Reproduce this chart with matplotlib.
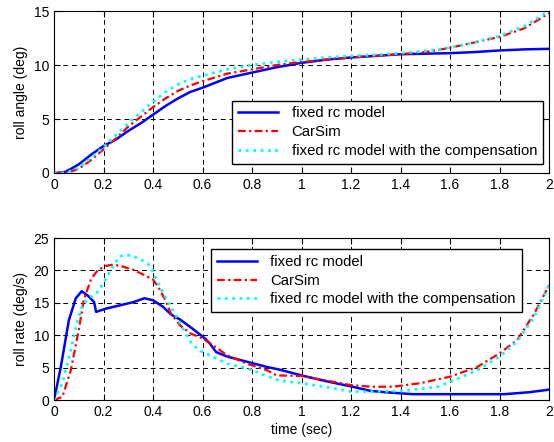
import numpy as np
import matplotlib
matplotlib.use('Agg')
import matplotlib.pyplot as plt

plt.rcParams.update({'font.family': ['Liberation Sans', 'DejaVu Sans'], 'font.size': 10})

# ── roll angle (deg) ──
t_ang = [0, 0.04, 0.07, 0.1, 0.15, 0.2, 0.25, 0.3, 0.35, 0.4, 0.45, 0.5, 0.55, 0.6, 0.7,
         0.8, 0.9, 1.0, 1.1, 1.2, 1.3, 1.4, 1.5, 1.6, 1.7, 1.8, 1.9, 2.0]
ang_fixed = [0, 0.05, 0.4, 0.8, 1.7, 2.5, 3.1, 3.9, 4.6, 5.4, 6.2, 6.9, 7.5, 7.9, 8.8,
             9.3, 9.8, 10.2, 10.5, 10.7, 10.85, 11.0, 11.05, 11.1, 11.2, 11.35, 11.45, 11.5]
ang_carsim = [0, 0.0, 0.15, 0.4, 1.2, 2.2, 3.2, 4.3, 5.2, 6.1, 6.9, 7.6, 8.1, 8.5, 9.2,
              9.6, 10.0, 10.3, 10.5, 10.7, 10.85, 11.0, 11.2, 11.6, 12.1, 12.6, 13.4, 14.8]
ang_comp = [0, 0.0, 0.2, 0.5, 1.4, 2.4, 3.5, 4.6, 5.6, 6.6, 7.5, 8.2, 8.7, 9.0, 9.6,
            10.0, 10.3, 10.5, 10.7, 10.85, 10.95, 11.1, 11.3, 11.6, 12.1, 12.7, 13.6, 15.0]

# ── roll rate (deg/s) ──
t_fixed = [0, 0.027, 0.06, 0.088, 0.112, 0.14, 0.162, 0.17, 0.21, 0.265, 0.32, 0.365, 0.4,
           0.44, 0.473, 0.51, 0.56, 0.61, 0.63, 0.655, 0.7, 0.78, 0.86, 0.91, 1.0, 1.1,
           1.2, 1.28, 1.34, 1.45, 1.6, 1.82, 1.92, 2.0]
rate_fixed = [0, 5.0, 12.3, 15.7, 16.8, 16.0, 15.1, 13.6, 14.1, 14.6, 15.1, 15.7, 15.4,
              14.4, 13.2, 12.4, 11.0, 9.5, 8.7, 7.4, 6.7, 5.9, 5.1, 4.7, 3.8, 2.9,
              2.1, 1.4, 1.2, 0.9, 0.9, 0.9, 1.2, 1.6]

t_carsim = [0, 0.034, 0.068, 0.1, 0.12, 0.15, 0.176, 0.21, 0.24, 0.277, 0.32, 0.37, 0.4,
            0.425, 0.45, 0.473, 0.51, 0.55, 0.6, 0.64, 0.7, 0.78, 0.86, 0.9, 1.0, 1.1,
            1.2, 1.28, 1.37, 1.48, 1.6, 1.71, 1.8, 1.87, 1.94, 2.0]
rate_carsim = [0, 0.5, 4.6, 10.8, 15.4, 18.7, 20.0, 20.7, 20.9, 20.6, 20.1, 19.2, 18.6,
               17.2, 15.4, 13.3, 11.5, 10.3, 9.5, 8.5, 6.9, 5.6, 4.6, 3.8, 3.7, 3.0,
               2.3, 2.05, 2.05, 2.6, 3.6, 5.1, 7.2, 9.2, 13.3, 17.7]

t_comp = [0, 0.034, 0.068, 0.095, 0.115, 0.14, 0.17, 0.19, 0.21, 0.236, 0.264, 0.284,
          0.31, 0.345, 0.38, 0.4, 0.425, 0.45, 0.48, 0.51, 0.535, 0.56, 0.6, 0.64, 0.7,
          0.78, 0.86, 0.91, 1.0, 1.1, 1.2, 1.28, 1.41, 1.55, 1.6, 1.71, 1.8, 1.87, 1.94, 2.0]
rate_comp = [0, 2.6, 7.7, 12.3, 14.6, 15.7, 16.4, 17.5, 18.7, 20.5, 22.1, 22.4,
             22.3, 21.8, 21.0, 19.8, 17.7, 15.9, 13.9, 11.8, 10.0, 8.5, 7.4, 6.7, 5.6,
             4.9, 3.7, 3.0, 2.6, 2.0, 1.3, 1.3, 1.4, 2.05, 2.8, 4.6, 6.7, 9.0, 12.8, 17.7]

labels = ['fixed rc model', 'CarSim', 'fixed rc model with the compensation']
DASHDOT = (0, (3.5, 1.5, 1, 1.5))

fig = plt.figure(figsize=(5.54, 4.42), dpi=100)
ax1 = fig.add_axes([0.0975, 0.6086, 0.8935, 0.3664])
ax2 = fig.add_axes([0.0975, 0.095, 0.8935, 0.3665])

def style(ax):
    ax.set_xlim(0, 2)
    ax.set_xticks(np.arange(0, 2.01, 0.2))
    ax.set_xticklabels(['0', '0.2', '0.4', '0.6', '0.8', '1', '1.2', '1.4', '1.6', '1.8', '2'])
    ax.grid(True, color='black', linestyle=(0, (5, 4)), linewidth=0.7)
    ax.tick_params(direction='in', top=True, right=True, length=4, labelsize=10)
    for s in ax.spines.values():
        s.set_linewidth(0.8)

def add_legend(ax, loc, anchor):
    ax.legend(loc=loc, bbox_to_anchor=anchor, fancybox=False, edgecolor='black',
              framealpha=1, borderaxespad=0, borderpad=0.4, handlelength=2.7,
              handletextpad=0.9, fontsize=10.7, labelspacing=0.32)

ax1.plot(t_ang, ang_fixed, color='#0000ff', lw=1.8, label=labels[0])
ax1.plot(t_ang, ang_carsim, color='#ff0000', lw=1.6, ls=DASHDOT, label=labels[1])
ax1.plot(t_ang, ang_comp, color='#00ffff', lw=2.0, ls=':', label=labels[2])
ax1.set_ylim(0, 15)
ax1.set_yticks([0, 5, 10, 15])
ax1.set_ylabel('roll angle (deg)')
style(ax1)
add_legend(ax1, 'lower right', (0.988, 0.056))

ax2.plot(t_fixed, rate_fixed, color='#0000ff', lw=1.8, label=labels[0])
ax2.plot(t_carsim, rate_carsim, color='#ff0000', lw=1.6, ls=DASHDOT, label=labels[1])
ax2.plot(t_comp, rate_comp, color='#00ffff', lw=2.0, ls=':', label=labels[2])
ax2.set_ylim(0, 25)
ax2.set_yticks([0, 5, 10, 15, 20, 25])
ax2.set_ylabel('roll rate (deg/s)')
ax2.set_xlabel('time (sec)', labelpad=3)
style(ax2)
add_legend(ax2, 'upper right', (0.945, 0.932))

fig.savefig('out.png', dpi=100)
